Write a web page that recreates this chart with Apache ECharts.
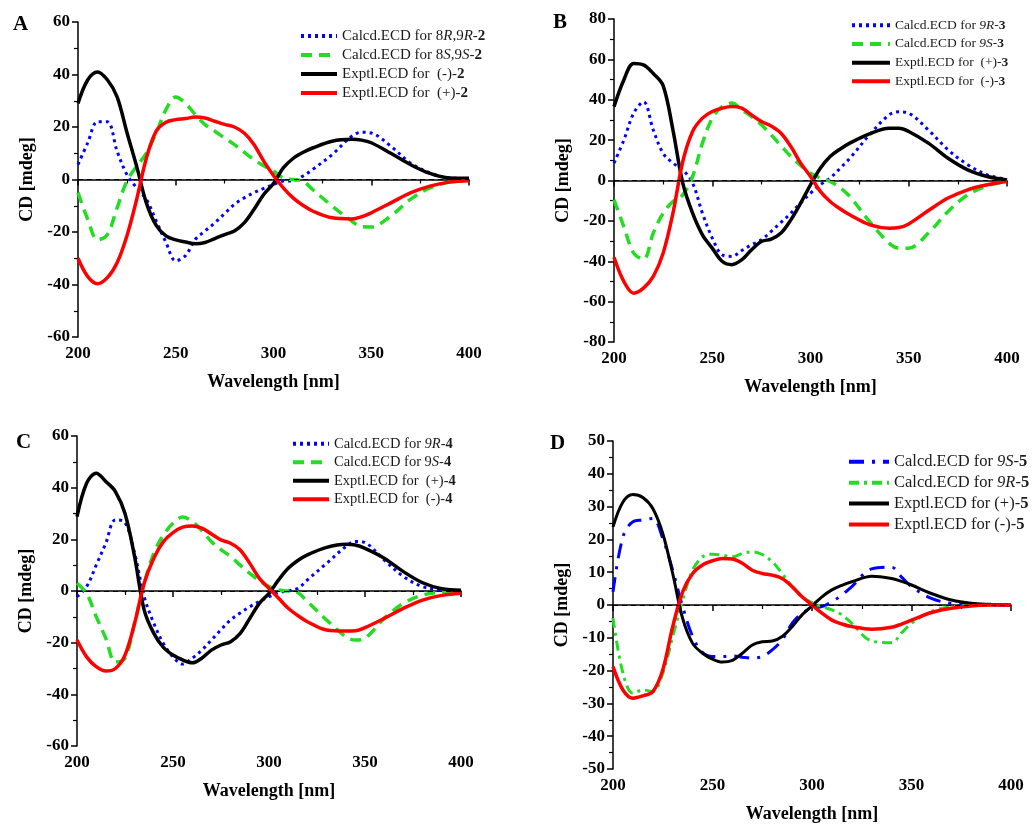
<!DOCTYPE html>
<html>
<head>
<meta charset="utf-8">
<script src="https://cdn.jsdelivr.net/npm/echarts@6/dist/echarts.min.js"></script>
<style>
  html, body { margin: 0; background: #fff; }
  #chart { width: 1035px; height: 825px; }
</style>
</head>
<body>
<div id="chart"></div>
<script>
// wavelength grid shared by every curve (nm)
const wavelength = [200, 205, 210, 215, 220, 225, 230, 235, 240, 245, 250, 255, 260, 265, 270, 275, 280, 285, 290, 295, 300, 305, 310, 315, 320, 330, 340, 345, 350, 360, 370, 380, 390, 400]

// panel A, compound 2
const calcA_8R9R = [5.7, 14, 22, 22, 10.8, 1.9, -3.2, -7.6, -15.8, -24, -31, -29, -22.8, -19.6, -16.5, -13, -9.5, -7, -5, -3.4, -1.9, -0.6, -0.5, 1.3, 3.8, 9.5, 16.5, 18, 17.7, 12.7, 6.3, 2.5, 0.6, 0.3]
const calcA_8S9S = [-5, -15.2, -23, -21, -10.8, -0.6, 5, 10, 17.7, 26.6, 31.4, 29, 24.7, 20.9, 18.4, 15.8, 13.3, 10.4, 7.6, 5.2, 3.2, 0.6, 0, -0.6, -3.8, -10.1, -15.8, -18, -18.1, -13.9, -7.6, -3.2, -1, -0.3]
const exptA_minus = [29, 38, 41, 38, 31.5, 18, 5, -9, -17.5, -21.5, -23, -23.8, -24.5, -24, -22.5, -21, -19.6, -16.5, -11.4, -5.7, -1.5, 4.4, 8, 10.3, 12, 14.6, 15.3, 15, 14, 10, 5.7, 2.3, 0.6, 0.5]
const exptA_plus = [-30, -37, -39.7, -37.4, -31.7, -21.5, -7.6, 8.2, 18.4, 21.8, 22.8, 23.2, 23.8, 23.4, 22.2, 21, 20, 17.7, 13.3, 7, 1.5, -3.2, -7, -9.8, -12, -14.6, -15, -14.2, -12.7, -8.9, -5.1, -2.5, -1, -0.5]

// panel B, compound 3
const calcB_9R = [8.6, 20, 33.3, 39, 25, 13.5, 8.6, 5.3, -1.3, -16.2, -28.5, -36.8, -37.6, -34.7, -31.8, -29.4, -25.2, -20.7, -16.2, -11, -6.3, -2.1, 1.2, 6, 11, 22.6, 32.5, 34, 33.3, 25, 15.2, 7.8, 2.8, 0.5]
const calcB_9S = [-9.6, -22.8, -36, -39, -26, -16.2, -10.4, -7.1, 2, 18.5, 30.9, 36.6, 38.4, 35, 31.7, 27.6, 22.6, 17.2, 11.9, 7.5, 3.6, 1.2, -0.5, -3.5, -7.9, -20.3, -31, -33.5, -33.5, -26, -15.3, -7.1, -2.6, -0.5]
const exptB_plus = [36.6, 49.8, 58, 57.3, 53, 47, 25, -1.3, -16.2, -26.9, -33.5, -40, -41.7, -39.3, -34.3, -30.2, -29, -26, -19.5, -11.2, -2.1, 6.1, 11.9, 15.5, 18.5, 23.1, 25.9, 25.9, 24.3, 18.5, 11, 5.3, 2, 0.3]
const exptB_minus = [-38, -50, -55.8, -53.3, -47.5, -36, -16.2, 9.4, 24.3, 30.9, 34.2, 35.8, 36.6, 35.8, 32.5, 29.2, 27, 23.4, 16.8, 8.6, 2, -5.4, -10.4, -14, -17, -21.9, -23.6, -23.3, -21.5, -14.9, -8.7, -4.6, -2.1, -0.5]

// panel C, compound 4
const calcC_9R = [-2.2, 1.7, 10, 18.5, 27.5, 26.5, 14.6, -2.2, -12.5, -20.3, -25.5, -28.3, -26, -22.9, -19, -15, -11.2, -8.5, -6.1, -4, -2.2, -0.6, 0, 1, 4.3, 10.7, 17.2, 19.2, 18.7, 12, 5.6, 1.7, 0.4, 0.1]
const calcC_9S = [3, -0.9, -9.9, -18.3, -27.5, -26, -12.5, 3, 14.6, 21.7, 26.2, 28.6, 26.9, 23.4, 19.1, 16, 13.3, 10, 6.8, 4, 1.7, 0.4, 0, -0.6, -4.1, -11.2, -17.7, -19, -18.3, -10.6, -4.8, -1.6, -0.4, 0]
const exptC_plus = [28.8, 41.7, 45.6, 42.4, 38.5, 30, 13.3, -7.4, -16.4, -21.8, -24.8, -26.7, -27.8, -26, -22.9, -20.9, -19.6, -16.4, -10.6, -4.8, -0.9, 4.3, 8.8, 11.8, 14, 16.9, 18.1, 17.8, 16.5, 12.7, 7.5, 3.2, 0.9, 0.3]
const exptC_minus = [-19, -25.5, -29.3, -31, -30, -24.8, -12.5, 3, 12.7, 19.1, 22.6, 24.7, 25.2, 24.3, 22.1, 19.8, 18.5, 15.9, 10.7, 4.9, 1, -2.8, -6.7, -9.5, -11.9, -15.1, -15.5, -15.4, -14.2, -10.6, -6.7, -3.5, -1.7, -0.9]

// panel D, compound 5
const calcD_9S = [4, 20.8, 25.4, 25.9, 26.4, 20.3, 10.6, -0.5, -9.6, -14.5, -15.7, -15.7, -15.5, -15.9, -16.2, -15.7, -13.7, -10.6, -5.6, -2.5, -1, -0.5, 1, 3, 5.6, 11, 11.5, 8.5, 5.6, 2, 0.5, 0.1, 0, 0]
const calcD_9R = [-4, -20.8, -26.9, -25.9, -26.4, -20.8, -9.6, 1.5, 10.6, 14.7, 15.5, 15.2, 14.7, 15.7, 16.2, 15.4, 13.2, 9.6, 5.6, 2.5, 0.7, -0.5, -1.5, -3, -5.6, -11, -11.5, -8.5, -5.6, -2, -0.5, -0.1, 0, 0]
const exptD_plus = [23.8, 31.4, 33.7, 32.8, 29.4, 21.8, 9.6, -4.1, -11.7, -14.7, -16.5, -17.4, -16.9, -14.7, -12.2, -11.2, -11, -9.6, -6.6, -3, -0.3, 2.5, 4.6, 6, 7.1, 8.8, 8.1, 7.2, 6.1, 3.5, 1.5, 0.5, 0.2, 0]
const exptD_minus = [-18.8, -25.9, -28.4, -27.7, -26.4, -19.8, -6.6, 4, 9.6, 12.2, 13.5, 14.2, 14, 12.7, 10.6, 9.6, 9.1, 8.1, 5.6, 2.5, 0, -2.5, -4.6, -5.8, -6.6, -7.4, -6.8, -5.8, -4.6, -2.3, -1, -0.3, 0, 0]

// legend names, rich-text labels and y ranges
const panelLetters = ['A', 'B', 'C', 'D']
const yRanges = [[-60, 60, 20], [-80, 80, 20], [-60, 60, 20], [-50, 50, 10]]
const seriesNames = [
  ['Calcd.ECD for 8R,9R-2', 'Calcd.ECD for 8S,9S-2', 'Exptl.ECD for  (-)-2', 'Exptl.ECD for  (+)-2'],
  ['Calcd.ECD for 9R-3', 'Calcd.ECD for 9S-3', 'Exptl.ECD for  (+)-3', 'Exptl.ECD for  (-)-3'],
  ['Calcd.ECD for 9R-4', 'Calcd.ECD for 9S-4', 'Exptl.ECD for  (+)-4', 'Exptl.ECD for  (-)-4'],
  ['Calcd.ECD for 9S-5', 'Calcd.ECD for 9R-5', 'Exptl.ECD for (+)-5', 'Exptl.ECD for (-)-5']
]
const richLabels = [
  ['{n|Calcd.ECD for 8}{i|R}{n|,9}{i|R}{n|-}{b|2}', '{n|Calcd.ECD for 8}{i|S}{n|,9}{i|S}{n|-}{b|2}', '{n|Exptl.ECD for  (-)-}{b|2}', '{n|Exptl.ECD for  (+)-}{b|2}'],
  ['{n|Calcd.ECD for }{i|9R}{n|-}{b|3}', '{n|Calcd.ECD for }{i|9S}{n|-}{b|3}', '{n|Exptl.ECD for  (+)-}{b|3}', '{n|Exptl.ECD for  (-)-}{b|3}'],
  ['{n|Calcd.ECD for }{i|9R}{n|-}{b|4}', '{n|Calcd.ECD for 9}{i|S}{n|-}{b|4}', '{n|Exptl.ECD for  (+)-}{b|4}', '{n|Exptl.ECD for  (-)-}{b|4}'],
  ['{n|Calcd.ECD for }{i|9S}{n|-}{b|5}', '{n|Calcd.ECD for }{i|9R}{n|-}{b|5}', '{n|Exptl.ECD for (+)-}{b|5}', '{n|Exptl.ECD for (-)-}{b|5}']
]
const panelValues = [
  [calcA_8R9R, calcA_8S9S, exptA_minus, exptA_plus],
  [calcB_9R, calcB_9S, exptB_plus, exptB_minus],
  [calcC_9R, calcC_9S, exptC_plus, exptC_minus],
  [calcD_9S, calcD_9R, exptD_plus, exptD_minus]
]

const font = "'Liberation Serif', 'Times New Roman', serif"
const blue = '#0000ff'
const green = '#22dd22'

// layout of the four panels
const grids = [
  { left: 78, top: 22, width: 391, height: 315 },
  { left: 614, top: 19, width: 393, height: 323 },
  { left: 77, top: 436, width: 384, height: 310 },
  { left: 613, top: 441, width: 398, height: 328 }
]
const legendPos = [
  { left: 299, top: 28, itemGap: 3, fontSize: 15, itemWidth: 36 },
  { left: 850, top: 18, itemGap: 4.2, fontSize: 13.5, itemWidth: 38 },
  { left: 291, top: 436, itemGap: 3, fontSize: 14.5, itemWidth: 36 },
  { left: 847, top: 453, itemGap: 3.4, fontSize: 16.5, itemWidth: 40 }
]
const letterPos = [[13, 14], [553, 12], [16, 432], [550, 433]]

// line styles: calc1, calc2, exptl black, exptl red
function lineStyles (panel) {
  if (panel === 3) {
    return [
      { color: blue, width: 3, type: [15, 8, 3, 8] },
      { color: green, width: 3, type: [10, 5, 3, 5] },
      { color: '#000', width: 3 },
      { color: '#ff0000', width: 3.5 }
    ]
  }
  return [
    { color: blue, width: 3, type: [3, 4] },
    { color: green, width: 3.5, type: [11, 7] },
    { color: '#000', width: 3.5 },
    { color: '#ff0000', width: 3.5 }
  ]
}

const axisText = { color: '#000', fontFamily: font, fontWeight: 'bold' }
const xAxis = []
const yAxis = []
const legend = []
const series = []
const graphic = []

grids.forEach((g, p) => {
  xAxis.push({
    gridIndex: p,
    type: 'value',
    min: 200,
    max: 400,
    interval: 50,
    name: 'Wavelength [nm]',
    nameLocation: 'middle',
    nameGap: 36,
    nameTextStyle: { ...axisText, fontSize: 18 },
    axisLine: { lineStyle: { color: '#000', width: 1.5 } },
    axisTick: { length: 6, lineStyle: { color: '#000', width: 1.5 } },
    minorTick: { show: true, splitNumber: 2, length: 4, lineStyle: { color: '#000', width: 1.2 } },
    axisLabel: { ...axisText, fontSize: 17, margin: 8 },
    splitLine: { show: false }
  })
  const [yMin, yMax, yStep] = yRanges[p]
  yAxis.push({
    gridIndex: p,
    type: 'value',
    min: yMin,
    max: yMax,
    interval: yStep,
    name: 'CD [mdeg]',
    nameLocation: 'middle',
    nameGap: 42,
    nameTextStyle: { ...axisText, fontSize: 18 },
    axisLine: { show: true, lineStyle: { color: '#000', width: 1.5 } },
    axisTick: { length: 6, lineStyle: { color: '#000', width: 1.5 } },
    minorTick: { show: true, splitNumber: 2, length: 4, lineStyle: { color: '#000', width: 1.2 } },
    axisLabel: { ...axisText, fontSize: 17, margin: 8 },
    splitLine: { show: false }
  })

  const lp = legendPos[p]
  const labels = {}
  seriesNames[p].forEach((n, k) => { labels[n] = richLabels[p][k] })
  const fs = lp.fontSize
  legend.push({
    orient: 'vertical',
    left: lp.left,
    top: lp.top,
    itemGap: lp.itemGap,
    itemWidth: lp.itemWidth,
    itemHeight: 12,
    padding: 0,
    data: seriesNames[p],
    formatter: (name) => labels[name],
    // 只保留图例中的线段，不画圆点
    itemStyle: { opacity: 0 },
    lineStyle: { width: 4 },
    textStyle: {
      fontFamily: font,
      fontSize: fs,
      color: '#1a1a1a',
      lineHeight: fs + 1,
      rich: {
        n: { fontFamily: font, fontSize: fs, color: '#1a1a1a', lineHeight: fs + 1 },
        i: { fontFamily: font, fontSize: fs, color: '#1a1a1a', fontStyle: 'italic', lineHeight: fs + 1 },
        b: { fontFamily: font, fontSize: fs, color: '#1a1a1a', fontWeight: 'bold', lineHeight: fs + 1 }
      }
    }
  })

  const styles = lineStyles(p)
  panelValues[p].forEach((vals, k) => {
    const s = {
      name: seriesNames[p][k],
      type: 'line',
      xAxisIndex: p,
      yAxisIndex: p,
      symbol: 'none',
      smooth: 0.35,
      lineStyle: styles[k],
      itemStyle: { color: styles[k].color },
      data: wavelength.map((w, i) => [w, vals[i]])
    }
    // 零线
    if (k === 0) {
      s.markLine = {
        silent: true,
        symbol: ['none', 'none'],
        label: { show: false },
        lineStyle: { color: '#000', width: 1, type: [5, 4] },
        data: [{ yAxis: 0 }]
      }
    }
    series.push(s)
  })

  graphic.push({
    type: 'text',
    left: letterPos[p][0],
    top: letterPos[p][1],
    style: { text: panelLetters[p], fill: '#000', font: `bold 21px ${font}` }
  })
})

const chart = echarts.init(document.getElementById('chart'))
chart.setOption({
  animation: false,
  backgroundColor: '#fff',
  grid: grids,
  xAxis: xAxis,
  yAxis: yAxis,
  legend: legend,
  series: series,
  graphic: graphic
})
</script>
</body>
</html>
